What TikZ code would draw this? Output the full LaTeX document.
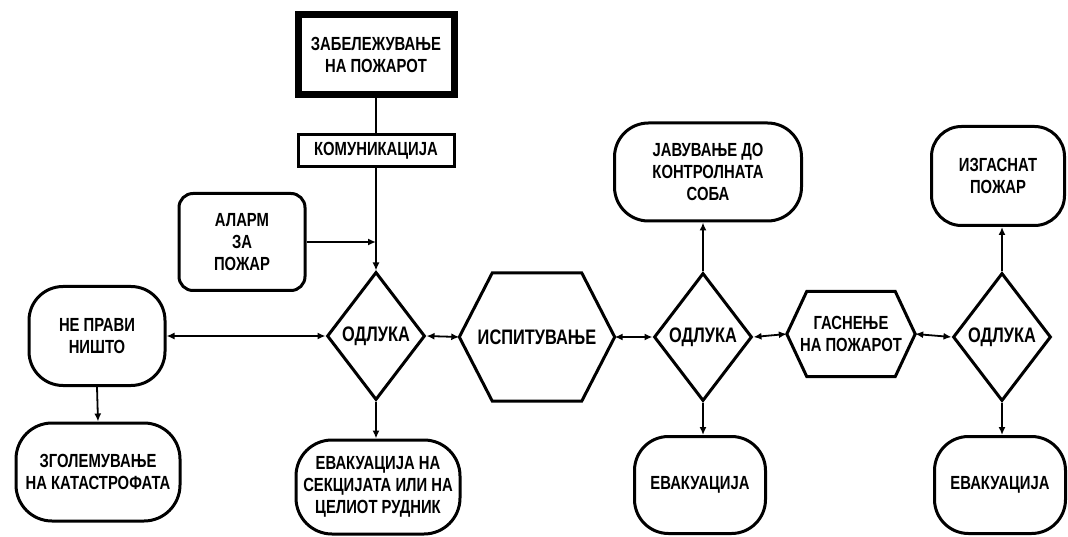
\documentclass[tikz,border=0pt]{standalone}
\usepackage{fontspec}
\setmainfont[FakeStretch=0.78]{Liberation Sans}
\usetikzlibrary{arrows.meta,shapes.geometric}

\begin{document}
\begin{tikzpicture}[x=1pt,y=-1pt]
\tikzstyle{txt}=[font=\fontsize{19}{22}\selectfont\bfseries, align=center, inner sep=0pt]
\tikzstyle{bigtxt}=[font=\fontsize{21}{24}\selectfont\bfseries]
\tikzstyle{box}=[txt, draw, line width=3pt]
\tikzstyle{roundbox}=[box, rounded corners=#1]
\tikzstyle{decision}=[txt, bigtxt, draw, line width=3pt, shape=diamond, minimum width=98pt, minimum height=128pt]
\tikzstyle{flow}=[line width=1.8pt, -{Latex[length=8pt,width=7pt]}]
\tikzstyle{twoway}=[line width=1.8pt, {Latex[length=8pt,width=7pt]}-{Latex[length=8pt,width=7pt]}]

%% Hexagon outline round a plain node
% #1=node name, #2=cut of the slanted sides
\newcommand{\HexOutline}[2]{
    \draw[line width=3pt, line join=miter] (#1.west) -- ([xshift=#2]#1.north west) -- ([xshift=-#2]#1.north east)
        -- (#1.east) -- ([xshift=-#2]#1.south east) -- ([xshift=#2]#1.south west) -- cycle;
}

\useasboundingbox (0,0) rectangle (1068,537);

%% ========== TOP COLUMN ==========
\node[box, line width=7pt, minimum width=156pt, minimum height=80pt] (record) at (376,55) {ЗАБЕЛЕЖУВАЊЕ\\НА ПОЖАРОТ};
\node[box, minimum width=156pt, minimum height=32pt] (comm) at (376,151) {КОМУНИКАЦИЈА};
\node[roundbox=14pt, minimum width=126pt, minimum height=97pt] (alarm) at (242,242) {АЛАРМ\\ЗА\\ПОЖАР};

%% ========== FIRST DECISION ==========
\node[decision] (dec1) at (376,336) {ОДЛУКА};
\node[roundbox=34pt, minimum width=136pt, minimum height=99pt] (nothing) at (97,336) {НЕ ПРАВИ\\НИШТО};
\node[roundbox=36pt, minimum width=164pt, minimum height=98pt] (disaster) at (98,472) {ЗГОЛЕМУВАЊЕ\\НА КАТАСТРОФАТА};
\node[roundbox=36pt, minimum width=164pt, minimum height=94pt] (evac1) at (378,487) {ЕВАКУАЦИЈА НА\\СЕКЦИЈАТА ИЛИ НА\\ЦЕЛИОТ РУДНИК};

%% ========== INVESTIGATION ==========
\node[txt, bigtxt, minimum width=155pt, minimum height=128pt] (inspect) at (537,337) {ИСПИТУВАЊЕ};
\HexOutline{inspect}{33pt}

%% ========== SECOND DECISION ==========
\node[decision] (dec2) at (703,337) {ОДЛУКА};
\node[roundbox=34pt, minimum width=187pt, minimum height=98pt] (report) at (708,172) {ЈАВУВАЊЕ ДО\\КОНТРОЛНАТА\\СОБА};
\node[roundbox=34pt, minimum width=131pt, minimum height=97pt] (evac2) at (700,485) {ЕВАКУАЦИЈА};

%% ========== EXTINGUISHING ==========
\node[txt, minimum width=128pt, minimum height=85pt] (extinguish) at (851,334) {ГАСНЕЊЕ\\НА ПОЖАРОТ};
\HexOutline{extinguish}{20pt}

%% ========== THIRD DECISION ==========
\node[decision] (dec3) at (1002,337) {ОДЛУКА};
\node[roundbox=30pt, minimum width=133pt, minimum height=99pt] (out) at (998,176) {ИЗГАСНАТ\\ПОЖАР};
\node[roundbox=34pt, minimum width=131pt, minimum height=97pt] (evac3) at (1000,485) {ЕВАКУАЦИЈА};

%% ========== CONNECTIONS ==========
\draw[line width=1.8pt] (record.south) -- (comm.north);
\draw[flow] (comm.south) -- (dec1.north);
\coordinate (alarm-in) at (comm.south |- alarm.east);
\draw[flow] (alarm.east) -- (alarm-in);

\draw[twoway] (nothing.east) -- (dec1.west);
\draw[flow] (nothing.south) -- (disaster.north);
\draw[flow] (dec1.south) -- (evac1.north -| dec1.south);

\draw[twoway] (dec1.east) -- (inspect.west);
\draw[twoway] (inspect.east) -- (dec2.west);
\draw[flow] (dec2.north) -- (dec2.north |- report.south);
\draw[flow] (dec2.south) -- (dec2.south |- evac2.north);

\draw[twoway] (dec2.east) -- (extinguish.west);
\draw[twoway] (extinguish.east) -- (dec3.west);
\draw[flow] (dec3.north) -- (dec3.north |- out.south);
\draw[flow] (dec3.south) -- (dec3.south |- evac3.north);

\end{tikzpicture}
\end{document}
